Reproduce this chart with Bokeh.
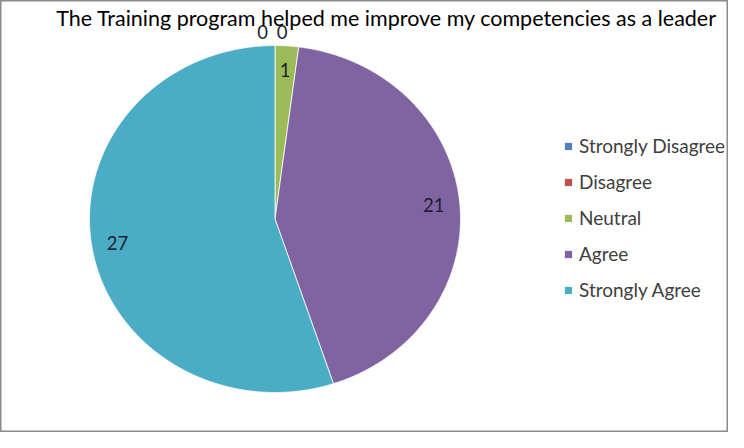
import numpy as np
from bokeh.plotting import figure
from bokeh.models import ColumnDataSource, Legend, LegendItem, Label, Range1d
from bokeh.core.properties import value
from bokeh.embed import file_html
from bokeh.resources import INLINE

# ---- data ----
title_text = "The Training program helped me improve my competencies as  a leader"
categories = ["Strongly Disagree", "Disagree", "Neutral", "Agree", "Strongly Agree"]
counts = [0, 0, 1, 21, 27]
colors = ["#4F81BD", "#C0504D", "#9BBB59", "#8064A2", "#4BACC6"]

FONT = "Lato"

# ---- layout ----
W, H = 728, 432
CX, CY = 274.5, 218.5   # pie centre in figure pixels (from top-left)
RX, RY = 185.5, 173.5   # pie radii in pixels

p = figure(width=W, height=H, output_backend="svg", toolbar_location=None,
           x_range=Range1d(-CX / RX, (W - CX) / RX),
           y_range=Range1d((CY - H) / RY, CY / RY),
           min_border=0)
p.xaxis.visible = False
p.yaxis.visible = False
p.grid.visible = False
p.outline_line_color = "#8c8c8c"
p.outline_line_width = 2
p.background_fill_color = "white"

# ---- slices (clockwise from 12 o'clock) ----
total = float(sum(counts))
cum = np.concatenate([[0.0], np.cumsum(counts)]) / total * 2 * np.pi
xs, ys = [], []
for a0, a1 in zip(cum[:-1], cum[1:]):
    n = max(2, int((a1 - a0) / 0.005) + 2)
    t = np.linspace(a0, a1, n)
    xs.append(np.concatenate([[0.0], np.sin(t), [0.0]]).tolist())
    ys.append(np.concatenate([[0.0], np.cos(t), [0.0]]).tolist())

src = ColumnDataSource(dict(xs=xs, ys=ys, color=colors, cat=categories))
r = p.patches("xs", "ys", source=src, fill_color="color", line_color="white",
              line_width=0.8)

# ---- data labels ----
mid = (cum[:-1] + cum[1:]) / 2
lx, ly = [], []
zero_shift = [-0.067, 0.038]
zi = 0
for c, m in zip(counts, mid):
    if c == 0:
        lx.append(float(np.sin(m)) + zero_shift[zi])
        ly.append(1.08)
        zi += 1
    else:
        lx.append(0.86 * float(np.sin(m)))
        ly.append(0.86 * float(np.cos(m)))
lsrc = ColumnDataSource(dict(x=lx, y=ly, t=[str(c) for c in counts]))
p.text("x", "y", text="t", source=lsrc, text_align="center", text_baseline="middle",
       text_font=value(FONT), text_font_size="18.5px", text_color="#1f1f2e")

# ---- title ----
p.add_layout(Label(x=389, y=H - 17, x_units="screen", y_units="screen",
                   text=title_text, text_align="center", text_baseline="middle",
                   text_font=FONT, text_font_size="21.5px", text_color="#000000"))

# ---- legend ----
legend = Legend(items=[LegendItem(label=c, renderers=[r], index=i)
                       for i, c in enumerate(categories)],
                location=(563, 131), orientation="vertical", padding=0, margin=0,
                spacing=13, glyph_width=10, glyph_height=10, label_height=20,
                label_standoff=6, label_text_font=FONT, label_text_font_size="19px",
                label_text_color="#404040", border_line_color=None,
                background_fill_alpha=0)
p.add_layout(legend)

open("out.html", "w").write(file_html(p, INLINE))
